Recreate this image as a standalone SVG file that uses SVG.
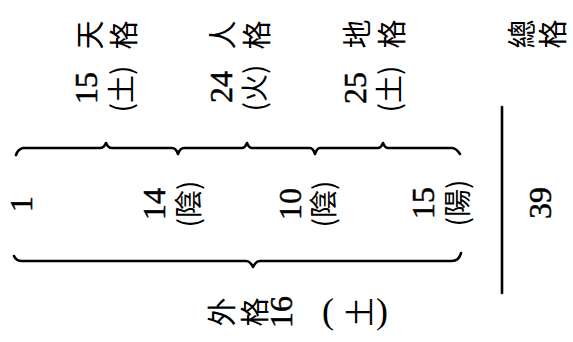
<svg xmlns="http://www.w3.org/2000/svg" width="573" height="342" viewBox="0 0 573 342">
<style>
.cjk{font-family:"Noto Sans CJK TC","Noto Sans CJK SC",sans-serif;font-size:29px;fill:#000;text-anchor:middle;dominant-baseline:central}
.par{font-family:"Noto Sans CJK TC","Noto Sans CJK SC",sans-serif;font-size:28px;fill:#000;text-anchor:middle;dominant-baseline:central}
.num{font-family:"Liberation Serif",serif;font-size:32px;fill:#000;stroke:#000;stroke-width:0.5;text-anchor:middle;dominant-baseline:central}
.up{font-family:"Liberation Serif",serif;font-size:36px;fill:#000;text-anchor:middle;dominant-baseline:central}
.con{fill:none;stroke:#000;stroke-width:2.6;stroke-linecap:round;stroke-linejoin:round}
</style>
<rect width="573" height="342" fill="#fff"/>
<g id="connectors">
<path class="con" d="M16,155 Q18,149 23,148 L100,148 Q104,148 106,143 Q108,148 112,148 L172,148 Q176,148 178,154 Q180,148 184,148 L242,148 Q245,148 247,143 Q249,148 252,148 L310,148 Q313,148 315,154 Q317,148 320,148 L378,148 Q381,148 383,143 Q385,148 388,148 L452,148 Q456,148 460,154"/>
<path class="con" d="M14,256 Q16,261 22,261 L246,261 Q250,261 253,267 Q256,261 260,261 L452,261 Q459,261 461,253"/>
<line class="con" x1="502" y1="107" x2="502" y2="293" stroke-width="3"/>
</g>
<g id="tian-ge">
<text class="cjk" x="88" y="35" transform="rotate(-90 88 35)">天</text>
<text class="cjk" x="122" y="35" transform="rotate(-90 122 35)">格</text>
<text class="num" x="86" y="88" transform="rotate(-90 86 88)">15</text>
<text class="par" x="120" y="89" transform="rotate(-90 120 89)">(土)</text>
</g>
<g id="ren-ge">
<text class="cjk" x="221" y="35" transform="rotate(-90 221 35)">人</text>
<text class="cjk" x="255" y="35" transform="rotate(-90 255 35)">格</text>
<text class="num" x="221" y="87" transform="rotate(-90 221 87)">24</text>
<text class="par" x="253" y="88" transform="rotate(-90 253 88)">(火)</text>
</g>
<g id="di-ge">
<text class="cjk" x="355" y="34" transform="rotate(-90 355 34)">地</text>
<text class="cjk" x="390" y="34" transform="rotate(-90 390 34)">格</text>
<text class="num" x="355" y="88" transform="rotate(-90 355 88)">25</text>
<text class="par" x="388" y="89" transform="rotate(-90 388 89)">(土)</text>
</g>
<g id="zong-ge">
<text class="cjk" x="520" y="34" transform="rotate(-90 520 34)">總</text>
<text class="cjk" x="551" y="34" transform="rotate(-90 551 34)">格</text>
<text class="num" x="540" y="203" transform="rotate(-90 540 203)">39</text>
</g>
<g id="stroke-1">
<text class="num" x="21" y="204" transform="rotate(-90 21 204)">1</text>
</g>
<g id="stroke-14">
<text class="num" x="154" y="204" transform="rotate(-90 154 204)">14</text>
<text class="par" x="187" y="204" transform="rotate(-90 187 204)">(陰)</text>
</g>
<g id="stroke-10">
<text class="num" x="290" y="204" transform="rotate(-90 290 204)">10</text>
<text class="par" x="322" y="204" transform="rotate(-90 322 204)">(陰)</text>
</g>
<g id="stroke-15">
<text class="num" x="423" y="203" transform="rotate(-90 423 203)">15</text>
<text class="par" x="456" y="203" transform="rotate(-90 456 203)">(陽)</text>
</g>
<g id="wai-ge">
<text class="cjk" x="220" y="312" transform="rotate(-90 220 312)">外</text>
<text class="cjk" x="253" y="312" transform="rotate(-90 253 312)">格</text>
<text class="num" x="281" y="312" transform="rotate(-90 281 312)">16</text>
<text class="up" x="328" y="311">(</text>
<text class="cjk" x="358" y="312" transform="rotate(-90 358 312)">土</text>
<text class="up" x="382" y="311">)</text>
</g>
</svg>
